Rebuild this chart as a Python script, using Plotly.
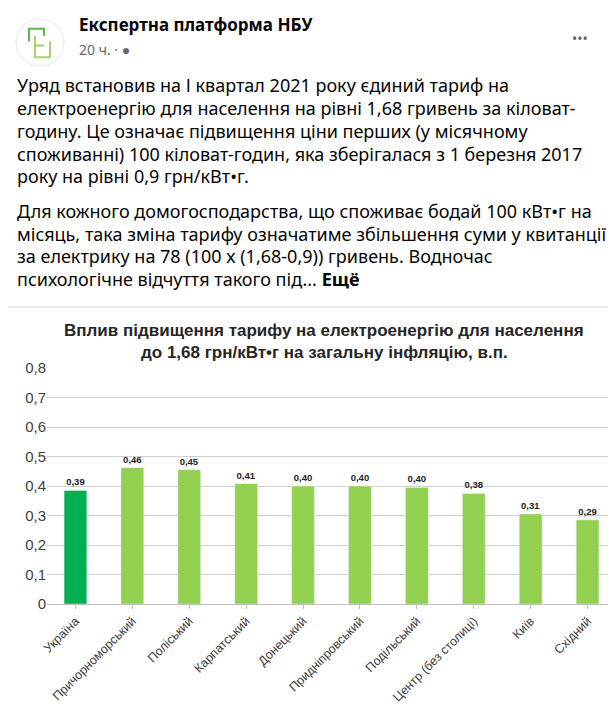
import plotly.graph_objects as go

categories = ["Україна", "Причорноморський", "Поліський", "Карпатський", "Донецький",
              "Придніпровський", "Подільський", "Центр (без столиці)", "Київ", "Східний"]
values = [0.385, 0.462, 0.455, 0.408, 0.400, 0.400, 0.395, 0.375, 0.305, 0.285]
labels = ["0,39", "0,46", "0,45", "0,41", "0,40", "0,40", "0,40", "0,38", "0,31", "0,29"]
colors = ["#00B050"] + ["#92D050"] * 9
yticks = [0, 0.1, 0.2, 0.3, 0.4, 0.5, 0.6, 0.7, 0.8]
yticklabels = ["0", "0,1", "0,2", "0,3", "0,4", "0,5", "0,6", "0,7", "0,8"]

OFF = 8  # page body margin
W, H = 608, 696
ML, MR, MT, MB = 47 - OFF, 0, 368 - OFF, 96
PW, PH = W - ML - MR, H - MT - MB
fig = go.Figure(go.Bar(x=categories, y=values, marker_color=colors, width=0.4,
                       text=labels, textposition="outside", cliponaxis=False,
                       textfont=dict(family="Liberation Sans", size=9.5, color="#222"),
                       texttemplate="<b>%{text}</b>"))

def px(x): return (x - OFF - ML) / PW
def py(y): return (H - MB - (y - OFF)) / PH

ann = []
def t(x, y, s, size=16, color="#050505", bold=False, family="Noto Sans", xanchor="left", yanchor="middle"):
    ann.append(dict(x=px(x), y=py(y), xref="paper", yref="paper", text=("<b>%s</b>" % s) if bold else s,
                    showarrow=False, xanchor=xanchor, yanchor=yanchor, align="left",
                    font=dict(size=size, color=color, family=family)))

t(77, 19, "Експертна платформа НБУ", size=17, bold=True)
t(77, 44, "20 ч. · \u25cf", size=14, color="#65676B")
t(590, 33, "•••", size=14, color="#65676B", xanchor="right")
p1 = ["Уряд встановив на І квартал 2021 року єдиний тариф на",
      "електроенергію для населення на рівні 1,68 гривень за кіловат-",
      "годину. Це означає підвищення ціни перших (у місячному",
      "споживанні) 100 кіловат-годин, яка зберігалася з 1 березня 2017",
      "року на рівні 0,9 грн/кВт•г."]
p2 = ["Для кожного домогосподарства, що споживає бодай 100 кВт•г на",
      "місяць, така зміна тарифу означатиме збільшення суми у квитанції",
      "за електрику на 78 (100 х (1,68-0,9)) гривень. Водночас",
      "психологічне відчуття такого під... <b>Ещё</b>"]
for i, s in enumerate(p1):
    t(15, 80 + i * 23.3, s, size=18)
for i, s in enumerate(p2):
    t(15, 208 + i * 23.3, s, size=18)
t(324, 330, "Вплив підвищення тарифу на електроенергію для населення", size=17, bold=True,
  family="Liberation Sans", color="#262626", xanchor="center")
t(324, 352, "до 1,68 грн/кВт•г на загальну інфляцію, в.п.", size=17, bold=True,
  family="Liberation Sans", color="#262626", xanchor="center")

shapes = [
    dict(type="line", xref="paper", yref="paper", x0=px(OFF), x1=px(W + OFF), y0=py(306), y1=py(306),
         line=dict(color="#E4E6EB", width=1.5)),
    dict(type="circle", xref="paper", yref="paper", x0=px(16), x1=px(64), y0=py(61), y1=py(13),
         line=dict(color="#E4E6EB", width=1), fillcolor="white"),
    dict(type="path", xref="paper", yref="paper",
         path="M %f %f L %f %f L %f %f L %f %f" % (px(44), py(30), px(44), py(23), px(29), py(23), px(29), py(36)),
         line=dict(color="#5FB548", width=2)),
    dict(type="path", xref="paper", yref="paper",
         path="M %f %f L %f %f L %f %f L %f %f" % (px(35), py(30), px(35), py(52), px(50), py(52), px(50), py(36)),
         line=dict(color="#A5D46A", width=2)),
    dict(type="line", xref="paper", yref="paper", x0=px(35), x1=px(44), y0=py(40), y1=py(40),
         line=dict(color="#A5D46A", width=2)),
]

fig.update_layout(
    width=W, height=H, paper_bgcolor="white", plot_bgcolor="white",
    margin=dict(l=ML, r=MR, t=MT, b=MB), showlegend=False,
    annotations=ann, shapes=shapes, bargap=0.6,
    xaxis=dict(tickangle=-45, tickfont=dict(family="Liberation Sans", size=12.5, color="#404040"),
               showline=True, linecolor="#BFBFBF", ticks="outside", ticklen=4, tickcolor="#BFBFBF"),
    yaxis=dict(range=[0, 0.8], tickvals=yticks, ticktext=yticklabels, showgrid=True,
               gridcolor="#D0D0D0", zeroline=False, showline=False,
               tickfont=dict(family="Liberation Sans", size=15, color="#404040")),
)
fig.write_html("out.html")
